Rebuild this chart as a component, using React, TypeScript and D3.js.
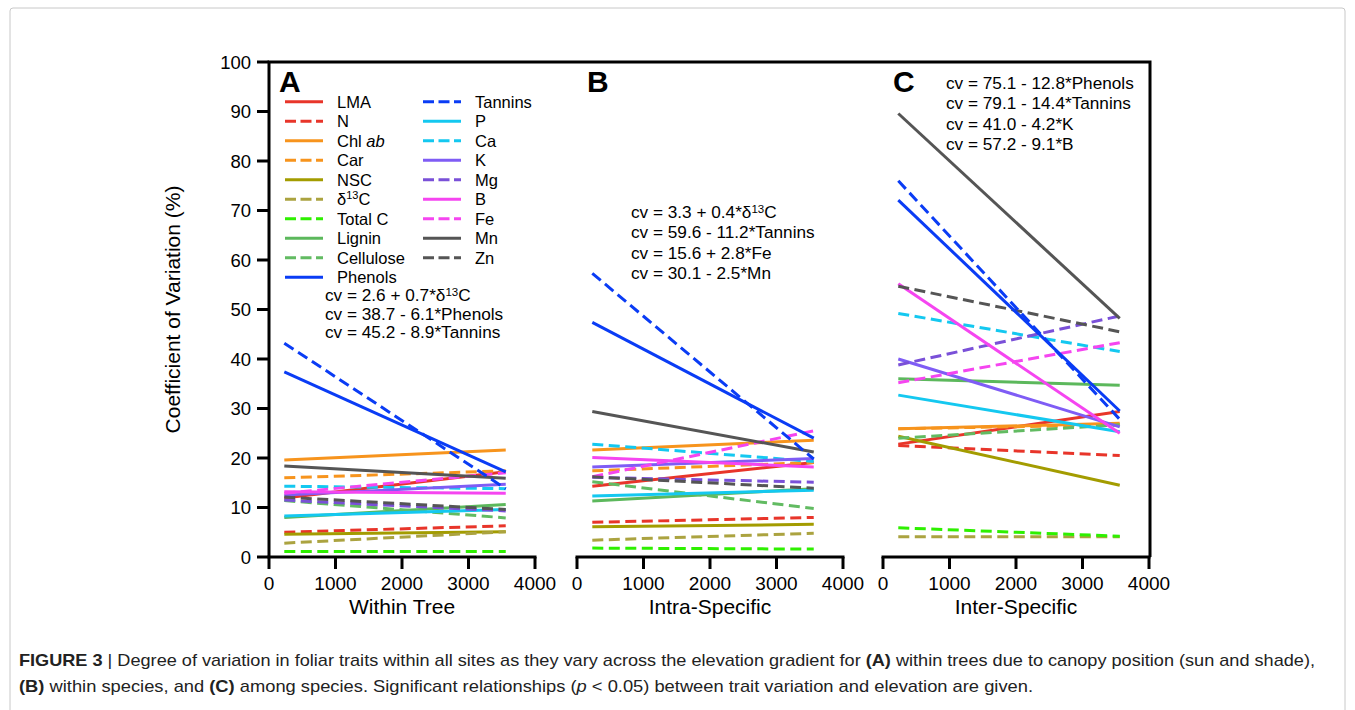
import React from "react";
import * as d3 from "d3";

// ---------- DATA ----------
const traits = ["LMA", "N", "Chl ab", "Car", "NSC", "δ13C", "Total C", "Lignin", "Cellulose", "Phenols",
  "Tannins", "P", "Ca", "K", "Mg", "B", "Fe", "Mn", "Zn"];
const dashed = [false, true, false, true, false, true, true, false, true, false,
  true, false, true, false, true, false, true, false, true];
const colors = ["#e8352a", "#e8352a", "#f7941d", "#f7941d", "#a39c00", "#aba340", "#2ef000", "#5cb85c", "#62bb62", "#0a3cf5",
  "#0a3cf5", "#14c8f0", "#14c8f0", "#7f5cf5", "#7a50d8", "#f545f0", "#f545f0", "#555555", "#555555"];

const elevations = [230, 3560];

// [start, end] coefficient of variation (%) per trait, same order as traits
const withinTree = [[11.9, 17.2], [5.0, 6.3], [19.6, 21.6], [16.0, 17.4], [4.6, 5.1], [2.8, 5.1], [1.1, 1.1], [8.0, 10.6], [11.4, 7.9], [37.4, 17.2],
  [43.2, 13.8], [8.3, 9.6], [14.3, 13.8], [12.5, 14.7], [11.5, 9.3], [13.2, 12.9], [12.9, 17.0], [18.4, 15.9], [12.1, 9.6]];
const intraSpecific = [[14.3, 19.1], [7.0, 8.0], [21.6, 23.6], [17.4, 19.1], [6.1, 6.6], [3.4, 4.8], [1.8, 1.6], [11.3, 13.8], [15.2, 9.8], [47.4, 24.0],
  [57.3, 19.8], [12.3, 13.5], [22.8, 19.3], [18.2, 19.9], [16.1, 15.1], [20.1, 18.2], [16.2, 25.5], [29.4, 21.2], [16.2, 13.9]];
const interSpecific = [[22.8, 29.4], [22.5, 20.5], [25.9, 27.0], [25.9, 26.7], [24.4, 14.5], [4.1, 4.1], [5.9, 4.2], [36.0, 34.7], [24.0, 26.7], [72.1, 29.5],
  [76.0, 27.8], [32.7, 25.3], [49.2, 41.5], [40.0, 26.3], [38.8, 48.7], [55.2, 25.0], [35.2, 43.3], [89.6, 48.2], [54.7, 45.5]];

const panelLetters = ["A", "B", "C"];
const panelTitles = ["Within Tree", "Intra-Specific", "Inter-Specific"];
const xTicks = [0, 1000, 2000, 3000, 4000];
const yTicks = [0, 10, 20, 30, 40, 50, 60, 70, 80, 90, 100];

const eqA = [["cv = 2.6 + 0.7*δ", "13", "C"], ["cv = 38.7 - 6.1*Phenols"], ["cv = 45.2 - 8.9*Tannins"]];
const eqB = [["cv = 3.3 + 0.4*δ", "13", "C"], ["cv = 59.6 - 11.2*Tannins"], ["cv = 15.6 + 2.8*Fe"], ["cv = 30.1 - 2.5*Mn"]];
const eqC = [["cv = 75.1 - 12.8*Phenols"], ["cv = 79.1 - 14.4*Tannins"], ["cv = 41.0 - 4.2*K"], ["cv = 57.2 - 9.1*B"]];

// ---------- LAYOUT ----------
const FONT = "'Liberation Sans', Arial, Helvetica, sans-serif";
const CAPFONT = "'Liberation Sans Narrow', 'Liberation Sans', Arial, sans-serif";
const W = 1355, H = 710;
const yTop = 62, yBot = 557;
const panelX = [[269, 535], [577, 843], [883, 1149]];
const frameRight = 1150;
const DASH = "11,5.5";
const SW = 3;

const y = d3.scaleLinear().domain([0, 100]).range([yBot, yTop]);
const xScales = panelX.map(r => d3.scaleLinear().domain([0, 4000]).range(r));
const panelData = [withinTree, intraSpecific, interSpecific];
const equations = [
  { lines: eqA, x: 325, y: 301, dy: 18.6 },
  { lines: eqB, x: 631, y: 218, dy: 20.3 },
  { lines: eqC, x: 946, y: 89, dy: 20.3 },
];

// draw order: others first, blue phenolics last
const drawOrder = traits.map((_, i) => i).filter(i => i !== 9 && i !== 10).concat([9, 10]);

function Label({ name }: { name: string }) {
  if (name === "Chl ab") return <>Chl <tspan fontStyle="italic">ab</tspan></>;
  if (name === "δ13C") return <>δ<tspan dy={-6} fontSize={11}>13</tspan><tspan dy={6}>C</tspan></>;
  return <>{name}</>;
}

export default function App() {
  const line = d3.line<[number, number]>().x(d => d[0]).y(d => d[1]);
  return (
    <svg width={W} height={H} style={{ position: "absolute", left: 0, top: 0, background: "#fff" }} fontFamily={FONT}>
      <rect x={10} y={8} width={1335} height={720} fill="none" stroke="#c8c8c8" strokeWidth={1} rx={3} />

      {/* data lines */}
      {panelData.map((pd, p) => (
        <g key={"p" + p}>
          {drawOrder.map(i => {
            const pts: [number, number][] = elevations.map((e, k) => [xScales[p](e), y(pd[i][k])]);
            return (
              <path key={i} d={line(pts) || ""} fill="none" stroke={colors[i]} strokeWidth={SW}
                strokeDasharray={dashed[i] ? DASH : undefined} />
            );
          })}
        </g>
      ))}

      {/* frame */}
      <path d={`M${panelX[0][0]},${yBot} V${yTop} H${frameRight} V${yBot}`} fill="none" stroke="#000" strokeWidth={3} />
      {/* y axis ticks */}
      {yTicks.map(t => (
        <g key={"yt" + t}>
          <line x1={257} x2={269} y1={y(t)} y2={y(t)} stroke="#000" strokeWidth={3} />
          <text x={251} y={y(t) + 6.5} textAnchor="end" fontSize={18.5}>{t}</text>
        </g>
      ))}
      <text transform={`translate(180,${(yTop + yBot) / 2}) rotate(-90)`} textAnchor="middle" fontSize={21}>
        Coefficient of Variation (%)
      </text>

      {/* x axes */}
      {xScales.map((xs, p) => (
        <g key={"xa" + p}>
          <line x1={xs.range()[0] - 1.5} x2={xs.range()[1] + 1.5} y1={yBot} y2={yBot} stroke="#000" strokeWidth={3} />
          {xTicks.map(t => (
            <g key={t}>
              <line x1={xs(t)} x2={xs(t)} y1={yBot} y2={yBot + 12} stroke="#000" strokeWidth={3} />
              <text x={xs(t)} y={590} textAnchor="middle" fontSize={19}>{t}</text>
            </g>
          ))}
          <text x={(xs.range()[0] + xs.range()[1]) / 2} y={614} textAnchor="middle" fontSize={21}>{panelTitles[p]}</text>
          <text x={xs.range()[0] + 10} y={92} fontSize={30} fontWeight="bold">{panelLetters[p]}</text>
        </g>
      ))}

      {/* legend */}
      {traits.map((t, i) => {
        const col = i < 10 ? 0 : 1;
        const row = i < 10 ? i : i - 10;
        const lx = col === 0 ? 285 : 423;
        const ly = 101.7 + row * 19.5;
        return (
          <g key={"lg" + i}>
            <line x1={lx} x2={lx + 38} y1={ly} y2={ly} stroke={colors[i]} strokeWidth={SW}
              strokeDasharray={dashed[i] ? "11,4.5" : undefined} />
            <text x={lx + 52} y={ly + 6} fontSize={16.5}><Label name={t} /></text>
          </g>
        );
      })}

      {/* equations */}
      {equations.map((eq, p) => (
        <g key={"eq" + p}>
          {eq.lines.map((l, k) => (
            <text key={k} x={eq.x} y={eq.y + k * eq.dy} fontSize={17.2}>
              {l[0]}
              {l.length > 1 && <><tspan dy={-5} fontSize={11.5}>{l[1]}</tspan><tspan dy={5}>{l[2]}</tspan></>}
            </text>
          ))}
        </g>
      ))}

      {/* caption */}
      <text x={19} y={666} fontSize={17} fontFamily={CAPFONT} fill="#222" textLength={1296} lengthAdjust="spacingAndGlyphs">
        <tspan fontWeight="bold">FIGURE 3</tspan> | Degree of variation in foliar traits within all sites as they vary across the elevation gradient for <tspan fontWeight="bold">(A)</tspan> within trees due to canopy position (sun and shade),
      </text>
      <text x={19} y={692} fontSize={17} fontFamily={CAPFONT} fill="#222" textLength={1014} lengthAdjust="spacingAndGlyphs">
        <tspan fontWeight="bold">(B)</tspan> within species, and <tspan fontWeight="bold">(C)</tspan> among species. Significant relationships (<tspan fontStyle="italic">p</tspan> &lt; 0.05) between trait variation and elevation are given.
      </text>
    </svg>
  );
}
